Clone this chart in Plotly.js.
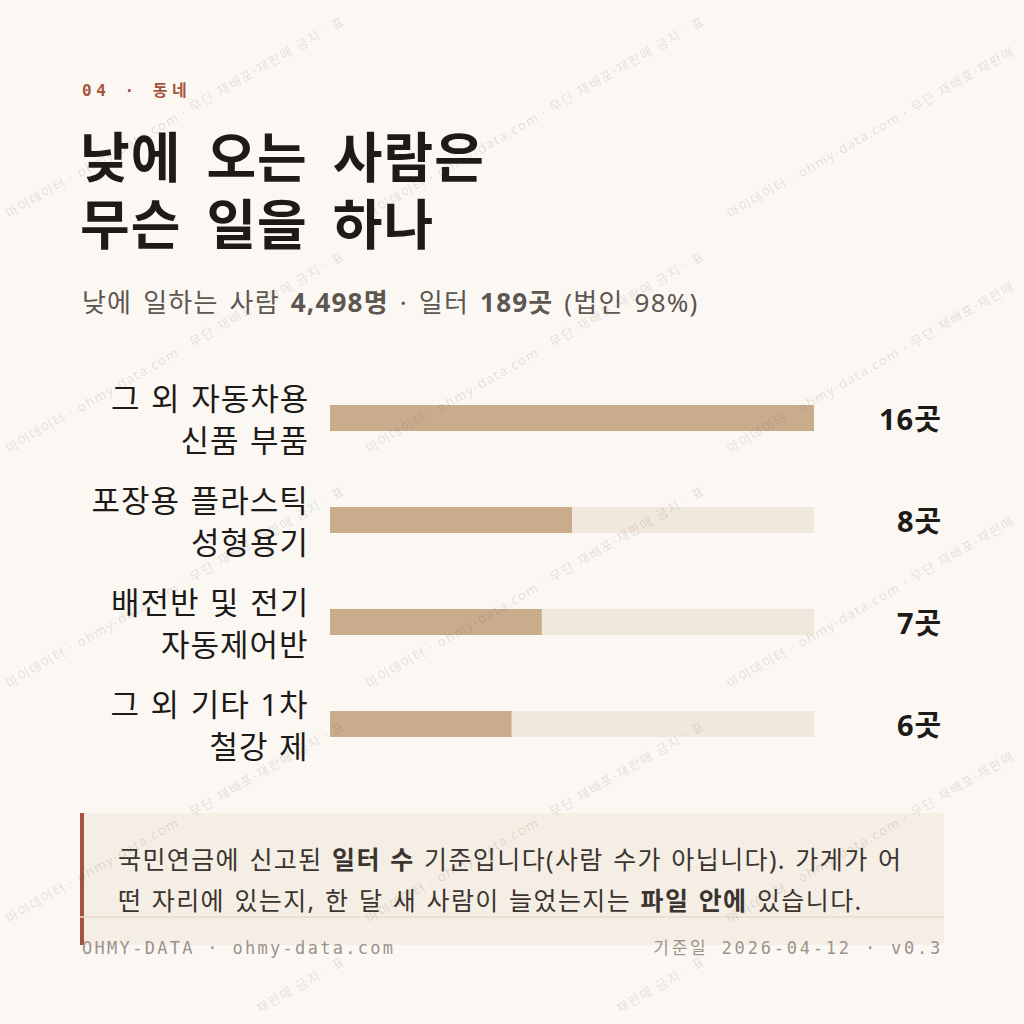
<!DOCTYPE html>
<html><head><meta charset="utf-8">
<script src="https://cdn.plot.ly/plotly-3.0.1.min.js"></script>
<style>
html,body{margin:0;padding:0;background:#fbf8f3;}
#chart{width:1024px;height:1024px;}
</style>
<style id="dyn"></style>
</head><body><div id="chart"></div>
<script>
// ---- data ----
const kicker = "04 · 동네";
const titleLines = ["낮에 오는 사람은", "무슨 일을 하나"];
const subtitle = "낮에 일하는 사람 <b>4,498명</b> · 일터 <b>189곳</b> (법인 98%)";
const categoryLine1 = ["그 외 자동차용", "포장용 플라스틱", "배전반 및 전기", "그 외 기타 1차"];
const categoryLine2 = ["신품 부품", "성형용기", "자동제어반", "철강 제"];
const counts = [16, 8, 7, 6];
const unit = "곳";
const noteLines = [
  "국민연금에 신고된 <b>일터 수</b> 기준입니다(사람 수가 아닙니다). 가게가 어",
  "떤 자리에 있는지, 한 달 새 사람이 늘었는지는 <b>파일 안에</b> 있습니다."
];
const footerLeft = "OHMY-DATA · ohmy-data.com";
const footerRight = "기준일 2026-04-12 · v0.3";
const watermark = "마이데이터 · ohmy-data.com · 무단 재배포·재판매 금지 · 표";
const watermarkEdge = "마이데이터 · ohmy-data.com · 무단 재배포·재판매";
const watermarkTail = "재판매 금지 · 표";

// ---- derived ----
const categories = categoryLine1.map((a, i) => a + " " + categoryLine2[i]);
const maxCount = Math.max(...counts);
const track = categories.map(() => maxCount);

const W = 1024, H = 1024;
const px = v => v / W;
const py = v => 1 - v / H;
const SANS = "'Noto Sans', 'Noto Sans CJK KR', sans-serif";
const MONO = "'DejaVu Sans Mono', 'Noto Sans CJK KR', monospace";
const INK = "#1d1a17";

const annotations = [];
const css = {}; // index -> css text
function ann(o, style) {
  annotations.push(Object.assign({showarrow: false, xref: 'paper', yref: 'paper'}, o));
  if (style) css[annotations.length - 1] = style;
}

// watermark (tiled, rotated)
const wmFont = {family: SANS, size: 13, color: 'rgba(95,85,75,0.17)'};
for (let j = 0; j < 4; j++) {
  for (let i = 0; i < 3; i++) {
    const x0 = 360 * i, y0 = 225 + 235 * j;
    ann({x: px(x0), y: py(y0), xanchor: 'left', yanchor: 'bottom', align: 'left',
      text: i < 2 ? watermark : watermarkEdge, textangle: -30, font: wmFont}, 'letter-spacing:1.5px');
  }
}
for (let i = 0; i < 2; i++) {
  ann({x: px(300 + 360 * i), y: py(985), xanchor: 'center', yanchor: 'middle',
    text: watermarkTail, textangle: -30, font: wmFont}, 'letter-spacing:1.5px');
}

// kicker
ann({x: px(80), y: py(90), xanchor: 'left', yanchor: 'middle', align: 'left',
  text: "<b>" + kicker + "</b>", font: {family: MONO, size: 16, color: '#a3543b'}}, 'letter-spacing:4.5px');

// title
titleLines.forEach((t, k) => {
  ann({x: px(78), y: py(157 + 67 * k), xanchor: 'left', yanchor: 'middle', align: 'left',
    text: "<b>" + t + "</b>", font: {family: SANS, size: 54, color: INK}},
    'letter-spacing:1px;word-spacing:10px');
});

// subtitle
ann({x: px(80), y: py(302), xanchor: 'left', yanchor: 'middle', align: 'left',
  text: subtitle, font: {family: SANS, size: 26, color: '#5e5650'}},
  'letter-spacing:1.2px;word-spacing:3px');

// category labels and values
categories.forEach((c, i) => {
  ann({x: px(311), yref: 'y', y: c, yshift: 20, xanchor: 'right', yanchor: 'middle', align: 'right',
    text: categoryLine1[i], font: {family: SANS, size: 31, color: INK}},
    'letter-spacing:1px;word-spacing:1.5px');
  ann({x: px(311), yref: 'y', y: c, yshift: -22, xanchor: 'right', yanchor: 'middle', align: 'right',
    text: categoryLine2[i], font: {family: SANS, size: 31, color: INK}},
    'letter-spacing:1px;word-spacing:1.5px');
  ann({x: px(944), yref: 'y', y: c, xanchor: 'right', yanchor: 'middle', align: 'right',
    text: "<b>" + counts[i] + unit + "</b>", font: {family: SANS, size: 29, color: INK}},
    'letter-spacing:1px');
});

// note
noteLines.forEach((t, k) => {
  ann({x: px(116), y: py(859 + 41 * k), xanchor: 'left', yanchor: 'middle', align: 'left',
    text: t, font: {family: SANS, size: 25, color: '#3b3430'}},
    'letter-spacing:1.4px;word-spacing:1.5px');
});

// footer
ann({x: px(80), y: py(948), xanchor: 'left', yanchor: 'middle', align: 'left',
  text: footerLeft, font: {family: MONO, size: 17, color: '#9d928a'}}, 'letter-spacing:2.3px');
ann({x: px(945), y: py(948), xanchor: 'right', yanchor: 'middle', align: 'right',
  text: footerRight, font: {family: MONO, size: 17, color: '#9d928a'}}, 'letter-spacing:2.8px');

document.getElementById('dyn').textContent = Object.keys(css).map(k =>
  `.annotation[data-index="${k}"] text{${css[k]};}`).join('\n');

const traces = [
  {type: 'bar', orientation: 'h', y: categories, x: track, width: 0.255,
   marker: {color: '#f0e8dc'}, hoverinfo: 'skip', showlegend: false},
  {type: 'bar', orientation: 'h', y: categories, x: counts, width: 0.255,
   marker: {color: '#c8ac8b'}, hoverinfo: 'skip', showlegend: false}
];

const layout = {
  width: W, height: H,
  margin: {l: 0, r: 0, t: 0, b: 0, pad: 0},
  paper_bgcolor: '#fbf8f3', plot_bgcolor: 'rgba(0,0,0,0)',
  barmode: 'overlay', showlegend: false,
  xaxis: {domain: [px(330), px(814)], range: [0, maxCount], visible: false, fixedrange: true},
  yaxis: {domain: [py(775), py(367)], type: 'category', categoryorder: 'array',
    categoryarray: categories, range: [categories.length - 0.5, -0.5], visible: false, fixedrange: true},
  shapes: [
    {type: 'rect', xref: 'paper', yref: 'paper', x0: px(80), x1: px(944), y0: py(945), y1: py(813),
     fillcolor: '#f5eee4', line: {width: 0}, layer: 'below'},
    {type: 'rect', xref: 'paper', yref: 'paper', x0: px(80), x1: px(84), y0: py(945), y1: py(813),
     fillcolor: '#a3543b', line: {width: 0}, layer: 'below'},
    {type: 'line', xref: 'paper', yref: 'paper', x0: px(80), x1: px(944), y0: py(917), y1: py(917),
     line: {color: '#e6ddd0', width: 1.5}, layer: 'below'}
  ],
  annotations: annotations
};

Plotly.newPlot('chart', traces, layout, {displayModeBar: false, staticPlot: true});
</script>
</body></html>
